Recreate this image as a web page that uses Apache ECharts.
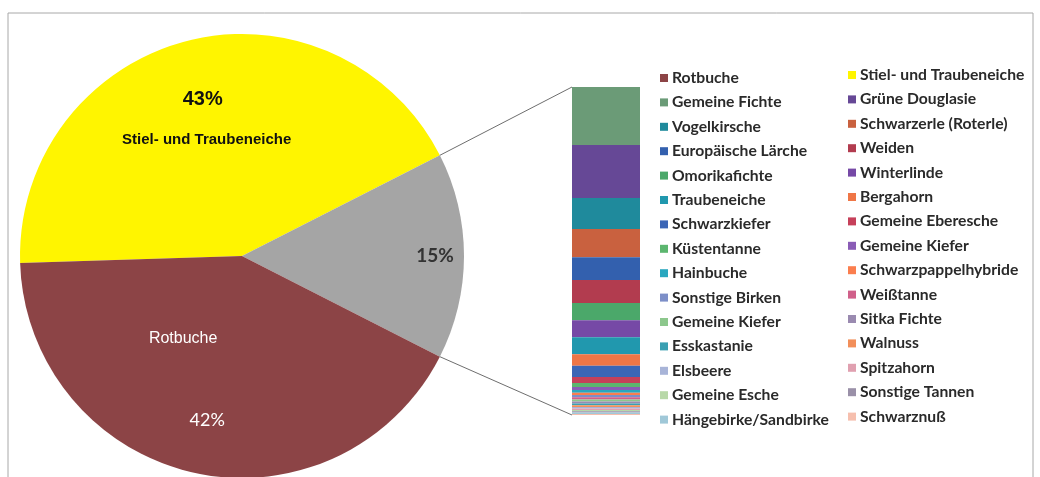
<!DOCTYPE html>
<html>
<head>
<meta charset="utf-8">
<script src="https://cdn.jsdelivr.net/npm/echarts@6/dist/echarts.min.js"></script>
<style>
  html, body { margin: 0; padding: 0; background: #ffffff; }
  #chart { width: 1040px; height: 477px; }
</style>
</head>
<body>
<div id="chart"></div>
<script>
// ---- data ----
const pieNames = ['Stiel- und Traubeneiche', 'Rotbuche'];
const pieValues = [43.0, 42.0];
const pieColors = ['#fff500', '#8c4446'];
const otherName = 'Sonstige';
const otherColor = '#a5a5a5';

const barNames = ['Gemeine Fichte', 'Grüne Douglasie', 'Vogelkirsche', 'Schwarzerle (Roterle)',
  'Europäische Lärche', 'Weiden', 'Omorikafichte', 'Winterlinde', 'Traubeneiche', 'Bergahorn',
  'Schwarzkiefer', 'Gemeine Eberesche', 'Küstentanne', 'Gemeine Kiefer', 'Hainbuche',
  'Schwarzpappelhybride', 'Sonstige Birken', 'Weißtanne', 'Gemeine Kiefer ', 'Sitka Fichte',
  'Esskastanie', 'Walnuss', 'Elsbeere', 'Spitzahorn', 'Gemeine Esche', 'Sonstige Tannen',
  'Hängebirke/Sandbirke', 'Schwarznuß'];
const barValues = [2.65, 2.42, 1.42, 1.28, 1.05, 1.05, 0.78, 0.78, 0.78, 0.52, 0.52, 0.27, 0.18,
  0.14, 0.12, 0.11, 0.10, 0.10, 0.09, 0.09, 0.08, 0.08, 0.07, 0.07, 0.06, 0.06, 0.06, 0.05];
const barColors = ['#6b9b77', '#664896', '#1f8a9c', '#c9613f', '#3360ae', '#b23c4f', '#4ba86a',
  '#7649a6', '#2198ae', '#ef7646', '#3c66b6', '#c6405a', '#5cb66f', '#8a5cb6', '#2aa7bf',
  '#fb7e4e', '#7d8fc8', '#d0608a', '#8cc78c', '#9a8ab0', '#3aa0b2', '#f28f5a', '#a8b4d8',
  '#e0a0b0', '#b8d8a8', '#9a90a8', '#a0c8d8', '#f6bfae'];

// legend order (row-major, two columns)
const legendOrder = ['Rotbuche', 'Stiel- und Traubeneiche'].concat(barNames);
const legendLeft = legendOrder.filter((_, i) => i % 2 === 0);
const legendRight = legendOrder.filter((_, i) => i % 2 === 1);

// ---- build ----
const otherValue = barValues.reduce((a, b) => a + b, 0);
const pieTotal = pieValues[0] + pieValues[1] + otherValue;
const PIE_CX = 242, PIE_CY = 256, PIE_R = 222, START = 181.8;

const pieData = [
  { name: pieNames[0], value: pieValues[0], itemStyle: { color: pieColors[0] } },
  { name: otherName, value: otherValue, itemStyle: { color: otherColor } },
  { name: pieNames[1], value: pieValues[1], itemStyle: { color: pieColors[1] } }
];

const labelFont = 'Liberation Sans, Arial, sans-serif';
const series = [{
  type: 'pie',
  center: [PIE_CX, PIE_CY],
  radius: PIE_R,
  startAngle: START,
  clockwise: true,
  avoidLabelOverlap: false,
  silent: true,
  data: pieData,
  labelLine: { show: false },
  label: {
    show: true,
    position: 'inside',
    formatter: function (p) {
      const pct = Math.round(p.percent) + '%';
      if (p.dataIndex === 0) return '{p|' + pct + '}\n{g|}\n{n|' + p.name + '}';
      if (p.dataIndex === 2) return '{rn|' + p.name + '}\n{rg|}\n{rp|' + pct + '}';
      return '{o|' + pct + '}';
    },
    rich: {
      p: { fontFamily: labelFont, fontWeight: 'bold', fontSize: 20, color: '#111', lineHeight: 22, padding: [0, 4, 0, 0] },
      g: { lineHeight: 21, fontSize: 1 },
      n: { fontFamily: labelFont, fontWeight: 'bold', fontSize: 15, color: '#111', lineHeight: 18, padding: [0, 0, 0, 4] },
      rn: { fontFamily: labelFont, fontSize: 16, color: '#ffffff', lineHeight: 18, padding: [0, 24, 0, 0] },
      rg: { lineHeight: 63, fontSize: 1 },
      rp: { fontFamily: 'Lato, sans-serif', fontSize: 18, color: '#ffffff', lineHeight: 18, padding: [0, 0, 0, 24] },
      o: { fontFamily: 'Lato, sans-serif', fontWeight: 'bold', fontSize: 19, color: '#333333' }
    }
  },
  labelLayout: function (p) {
    if (p.dataIndex === 0) return { dx: -4.5, dy: -13.5 };
    if (p.dataIndex === 2) return { dx: -11, dy: 6 };
    return { dx: 39.5, dy: 0 };
  }
}];

barNames.forEach(function (n, i) {
  series.push({
    type: 'bar',
    name: n,
    stack: 'other',
    barWidth: '100%',
    silent: true,
    data: [barValues[i]],
    itemStyle: { color: barColors[i] }
  });
});

const legendCommon = {
  orient: 'vertical',
  icon: 'rect',
  itemWidth: 8,
  itemHeight: 8,
  itemGap: 8.4,
  selectedMode: false,
  padding: 0,
  textStyle: { fontFamily: 'Lato, sans-serif', fontWeight: 'bold', fontSize: 15.7, color: '#2a2a2a', lineHeight: 16, padding: [0, 0, 0, -1] }
};

const chart = echarts.init(document.getElementById('chart'), null, { renderer: 'canvas' });
chart.setOption({
  animation: false,
  backgroundColor: '#ffffff',
  grid: { left: 572, top: 87, width: 68, height: 328 },
  xAxis: { type: 'category', data: ['Sonstige'], show: false },
  yAxis: { type: 'value', show: false, inverse: true, min: 0, max: otherValue },
  legend: [
    Object.assign({}, legendCommon, { left: 660, top: 70, data: legendLeft }),
    Object.assign({}, legendCommon, { left: 848, top: 67, data: legendRight })
  ],
  series: series
});

// connector lines from the "other" slice to the bar
const a1 = (START - 360 * pieValues[0] / pieTotal) * Math.PI / 180;
const a2 = (START - 360 * (pieValues[0] + otherValue) / pieTotal) * Math.PI / 180;
const gridRect = chart.getModel().getComponent('grid', 0).coordinateSystem.getRect();
const yTop = chart.convertToPixel({ yAxisIndex: 0 }, 0);
const yBot = chart.convertToPixel({ yAxisIndex: 0 }, otherValue);
chart.setOption({
  graphic: [
    { type: 'rect', z: -10, shape: { x: 8, y: 13, width: 1025, height: 480 },
      style: { fill: null, stroke: '#a8a8a8', lineWidth: 1 } },
    { type: 'line', z: 10, shape: { x1: PIE_CX + PIE_R * Math.cos(a1), y1: PIE_CY - PIE_R * Math.sin(a1), x2: gridRect.x, y2: yTop },
      style: { stroke: '#6e6e6e', lineWidth: 1 } },
    { type: 'line', z: 10, shape: { x1: PIE_CX + PIE_R * Math.cos(a2), y1: PIE_CY - PIE_R * Math.sin(a2), x2: gridRect.x, y2: yBot },
      style: { stroke: '#6e6e6e', lineWidth: 1 } }
  ]
});
</script>
</body>
</html>
